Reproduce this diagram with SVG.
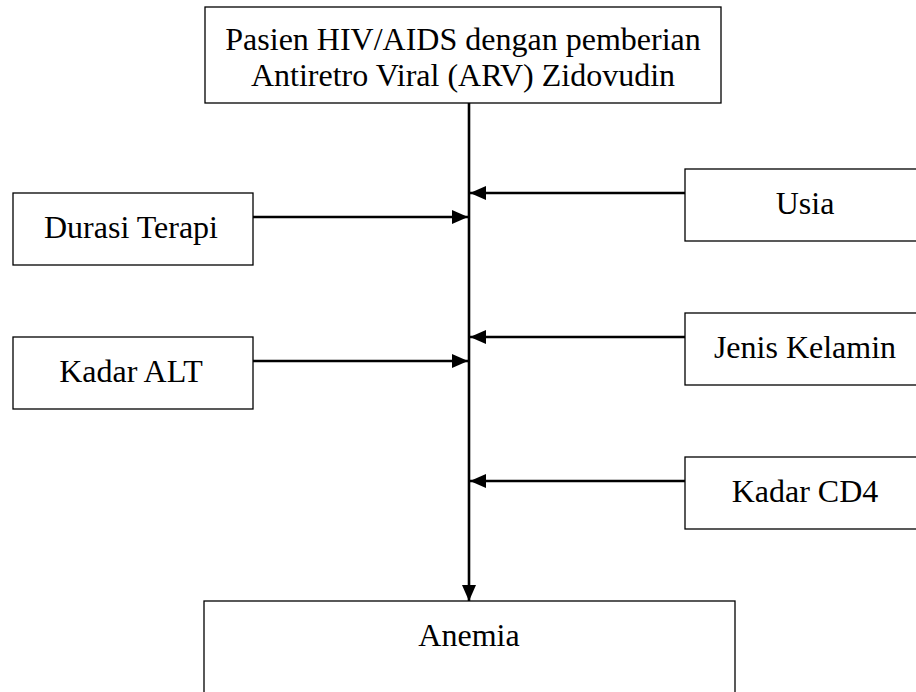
<svg xmlns="http://www.w3.org/2000/svg" width="916" height="692" viewBox="0 0 916 692">
<style>
.box{fill:#fff;stroke:#000;stroke-width:1.3}
.t{font-family:"Liberation Serif","Times New Roman",serif;font-size:32px;fill:#000;text-anchor:middle}
.c{stroke:#000;stroke-width:2.6;fill:none}
</style>
<defs>
<marker id="ah" markerUnits="userSpaceOnUse" markerWidth="16" markerHeight="16" viewBox="0 0 16 16" refX="16" refY="8" orient="auto">
<path d="M0,1 L16,8 L0,15 Z" fill="#000"/>
</marker>
</defs>
<rect width="916" height="692" fill="#fff"/>
<g id="connectors">
<line class="c" x1="469" y1="103" x2="469" y2="601" marker-end="url(#ah)"/>
<line class="c" x1="253" y1="217" x2="468" y2="217" marker-end="url(#ah)"/>
<line class="c" x1="253" y1="361" x2="468" y2="361" marker-end="url(#ah)"/>
<line class="c" x1="685" y1="193" x2="470" y2="193" marker-end="url(#ah)"/>
<line class="c" x1="685" y1="337" x2="470" y2="337" marker-end="url(#ah)"/>
<line class="c" x1="685" y1="481" x2="470" y2="481" marker-end="url(#ah)"/>
</g>
<g id="pasien">
<rect class="box" x="205" y="7" width="516" height="96"/>
<text class="t" x="463" y="50">Pasien HIV/AIDS dengan pemberian</text>
<text class="t" x="463" y="86">Antiretro Viral (ARV) Zidovudin</text>
</g>
<g id="durasi">
<rect class="box" x="13" y="193" width="240" height="72"/>
<text class="t" x="131" y="238">Durasi Terapi</text>
</g>
<g id="alt">
<rect class="box" x="13" y="337" width="240" height="72"/>
<text class="t" x="131" y="382">Kadar ALT</text>
</g>
<g id="usia">
<rect class="box" x="685" y="169" width="240" height="72"/>
<text class="t" x="805" y="214">Usia</text>
</g>
<g id="jenis">
<rect class="box" x="685" y="313" width="240" height="72"/>
<text class="t" x="805" y="358">Jenis Kelamin</text>
</g>
<g id="cd4">
<rect class="box" x="685" y="457" width="240" height="72"/>
<text class="t" x="805" y="502">Kadar CD4</text>
</g>
<g id="anemia">
<rect class="box" x="204" y="601" width="531" height="110"/>
<text class="t" x="469" y="646">Anemia</text>
</g>
</svg>
